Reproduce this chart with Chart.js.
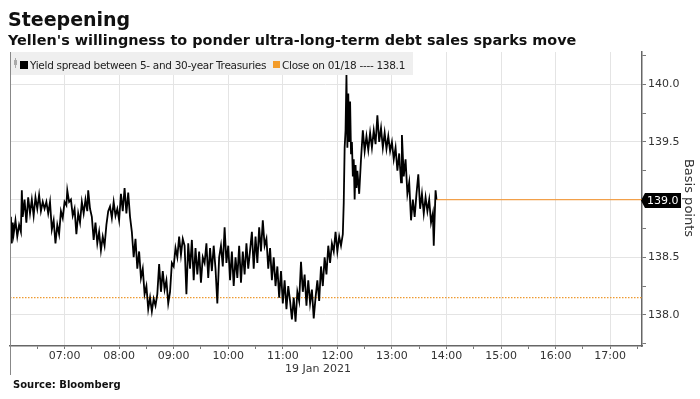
<!DOCTYPE html>
<html>
<head>
<meta charset="utf-8">
<script src="https://cdn.jsdelivr.net/npm/chart.js@4"></script>
<style>
html, body { margin: 0; padding: 0; background: #fff; }
#wrap { position: relative; width: 700px; height: 399px; }
</style>
</head>
<body>
<div id="wrap"><canvas id="chart" width="700" height="399"></canvas></div>
<script>
// Chart text
var chartTitle = 'Steepening';
var chartSubtitle = "Yellen's willingness to ponder ultra-long-term debt sales sparks move";
var seriesName = 'Yield spread between 5- and 30-year Treasuries';
var closeName = 'Close on 01/18 ---- 138.1';
var dateLabel = '19 Jan 2021';
var axisTitle = 'Basis points';
var sourceText = 'Source: Bloomberg';

// minutes after 06:00 on 19 Jan 2021
var minutes = [
  0, 1, 2, 3, 4, 6, 8, 10, 12, 13, 14, 16, 18, 20, 22, 24, 26, 28, 30, 32, 34, 36, 38, 40, 42, 44, 46, 48, 50, 52,
  54, 56, 58, 60, 62, 63, 65, 67, 69, 71, 73, 75, 77, 79, 81, 83, 85, 86, 88, 90, 92, 94, 96, 98, 100, 102, 104, 106, 108, 110,
  112, 114, 116, 118, 120, 122, 124, 126, 128, 130, 132, 134, 136, 138, 140, 142, 144, 146, 148, 150, 152, 154, 156, 158, 160, 162, 164, 166, 168, 170,
  172, 174, 176, 178, 180, 182, 184, 186, 188, 190, 192, 194, 196, 198, 200, 202, 204, 206, 208, 210, 212, 214, 216, 218, 220, 222, 224, 226, 228, 230,
  232, 234, 236, 238, 240, 242, 244, 246, 248, 250, 252, 254, 256, 258, 260, 262, 264, 266, 268, 270, 272, 274, 276, 278, 280, 282, 284, 286, 288, 290,
  292, 294, 296, 298, 300, 302, 304, 306, 308, 310, 312, 314, 316, 318, 320, 322, 324, 326, 328, 330, 332, 334, 336, 338, 340, 342, 344, 346, 348, 350,
  352, 354, 356, 358, 360, 362, 364, 366, 367, 368, 369, 370, 371, 372, 373, 374, 375, 376, 377, 378, 379, 380, 381, 382, 384, 386, 388, 390, 392, 394,
  396, 398, 400, 402, 404, 406, 408, 410, 412, 414, 416, 418, 420, 422, 424, 426, 428, 430, 431, 433, 435, 437, 439, 441, 443, 445, 447, 449, 451, 453,
  455, 457, 459, 461, 463, 465, 466, 467, 468, 469
];
var spread = [
  138.65, 138.85, 138.62, 138.80, 138.70, 138.82, 138.68, 138.78, 138.72, 139.08, 138.85, 139.00, 138.80, 139.02, 138.88, 139.00, 138.86, 139.02, 138.92, 139.04, 138.90, 138.98, 138.92, 138.98, 138.88, 138.98, 138.74, 138.82, 138.62, 138.78,
  138.70, 138.90, 138.84, 138.98, 138.95, 139.08, 138.98, 139.00, 138.86, 138.92, 138.70, 138.88, 138.80, 138.98, 138.88, 139.00, 138.90, 139.08, 138.92, 138.85, 138.65, 138.80, 138.62, 138.72, 138.56, 138.68, 138.60, 138.78, 138.90, 138.94,
  138.84, 138.98, 138.86, 138.92, 138.82, 139.05, 138.90, 139.10, 138.88, 139.06, 138.85, 138.72, 138.50, 138.66, 138.40, 138.55, 138.32, 138.40, 138.18, 138.25, 138.05, 138.15, 138.03, 138.14, 138.08, 138.18, 138.44, 138.20, 138.38, 138.22,
  138.30, 138.10, 138.20, 138.45, 138.42, 138.58, 138.50, 138.68, 138.52, 138.66, 138.60, 138.18, 138.62, 138.40, 138.65, 138.30, 138.58, 138.35, 138.55, 138.28, 138.50, 138.45, 138.62, 138.32, 138.58, 138.38, 138.60, 138.40, 138.10, 138.50,
  138.60, 138.42, 138.76, 138.45, 138.60, 138.30, 138.55, 138.25, 138.50, 138.32, 138.60, 138.28, 138.55, 138.35, 138.62, 138.40, 138.56, 138.72, 138.40, 138.68, 138.45, 138.76, 138.55, 138.82, 138.60, 138.66, 138.40, 138.58, 138.30, 138.50,
  138.25, 138.42, 138.15, 138.38, 138.10, 138.30, 138.05, 138.25, 138.12, 137.96, 138.15, 137.94, 138.20, 138.12, 138.46, 138.20, 138.35, 138.08, 138.30, 138.10, 138.22, 137.97, 138.15, 138.30, 138.12, 138.42, 138.25, 138.50, 138.35, 138.60,
  138.45, 138.62, 138.55, 138.72, 138.55, 138.68, 138.60, 138.70, 138.97, 139.45, 139.60, 140.08, 139.45, 139.92, 139.50, 139.85, 139.40, 139.50, 139.20, 139.35, 139.00, 139.30, 139.10, 139.25, 139.05, 139.35, 139.60, 139.42, 139.55, 139.43,
  139.58, 139.45, 139.60, 139.48, 139.73, 139.50, 139.62, 139.45, 139.58, 139.44, 139.55, 139.42, 139.50, 139.35, 139.45, 139.25, 139.40, 139.15, 139.56, 139.20, 139.35, 139.05, 139.15, 138.82, 139.00, 138.85, 139.05, 139.22, 138.92, 139.05,
  138.88, 139.02, 138.90, 139.00, 138.80, 138.88, 138.60, 138.85, 139.08, 139.00
];
var closeValue = 138.15;
var lastValue = 139.0;
var xMin = 0, xMax = 695;
var yMin = 137.73, yMax = 140.28;

var points = [];
for (var i = 0; i < minutes.length; i++) {
  points.push({ x: minutes[i], y: spread[i] });
}

function isMajor(v) {
  return Math.abs(v * 2 - Math.round(v * 2)) < 0.001;
}
function hourLabel(v) {
  var h = 6 + v / 60;
  return (h < 10 ? '0' : '') + h + ':00';
}

var decor = {
  id: 'decor',
  beforeDatasetsDraw: function(chart) {
    var ctx = chart.ctx;
    ctx.save();
    ctx.fillStyle = '#efefef';
    ctx.fillRect(10, 52, 403, 23);
    ctx.restore();
  },
  afterDraw: function(chart) {
    var ctx = chart.ctx;
    var area = chart.chartArea;
    var yScale = chart.scales.y;
    ctx.save();

    // titles
    ctx.fillStyle = '#111';
    ctx.textBaseline = 'alphabetic';
    ctx.textAlign = 'left';
    ctx.font = 'bold 19px "DejaVu Sans"';
    ctx.fillText(chartTitle, 8, 26);
    ctx.font = 'bold 14.4px "DejaVu Sans"';
    ctx.fillText(chartSubtitle, 8, 45);
    ctx.font = 'bold 10px "DejaVu Sans"';
    ctx.fillText(sourceText, 13, 388);

    // legend
    ctx.fillStyle = '#aaa';
    ctx.fillRect(14, 60, 3, 5);
    ctx.fillRect(15, 58, 1, 10);
    ctx.fillStyle = '#000';
    ctx.fillRect(20, 61, 8, 8);
    ctx.fillStyle = '#f39c2a';
    ctx.fillRect(273, 61, 7, 7);
    ctx.fillStyle = '#222';
    ctx.font = '10.5px "DejaVu Sans"';
    ctx.letterSpacing = '-0.3px';
    ctx.fillText(seriesName, 30, 69);
    ctx.fillText(closeName, 282, 69);
    ctx.letterSpacing = '0px';

    // left separator
    ctx.strokeStyle = '#888';
    ctx.lineWidth = 1;
    ctx.beginPath();
    ctx.moveTo(10.5, area.top);
    ctx.lineTo(10.5, 375);
    ctx.stroke();

    // date under the hours
    ctx.fillStyle = '#333';
    ctx.font = '11px "DejaVu Sans"';
    ctx.textAlign = 'center';
    ctx.fillText(dateLabel, 318, 372);

    // last value box
    var py = Math.round(yScale.getPixelForValue(lastValue)) + 0.5;
    ctx.fillStyle = '#000';
    ctx.beginPath();
    ctx.moveTo(641, py);
    ctx.lineTo(645, py - 7.5);
    ctx.lineTo(681, py - 7.5);
    ctx.lineTo(681, py + 7.5);
    ctx.lineTo(645, py + 7.5);
    ctx.closePath();
    ctx.fill();
    ctx.fillStyle = '#fff';
    ctx.textAlign = 'left';
    ctx.textBaseline = 'middle';
    ctx.fillText(lastValue.toFixed(1), 647, py + 0.5);

    // axis title
    ctx.translate(688, 198);
    ctx.rotate(Math.PI / 2);
    ctx.fillStyle = '#333';
    ctx.font = '13px "DejaVu Sans"';
    ctx.textAlign = 'center';
    ctx.fillText(axisTitle, 0, 0);
    ctx.restore();
  }
};

var ctx = document.getElementById('chart').getContext('2d');
var chart = new Chart(ctx, {
  type: 'line',
  data: {
    datasets: [
      {
        label: seriesName,
        data: points,
        borderColor: '#000',
        borderWidth: 1.8,
        pointRadius: 0,
        tension: 0,
        order: 1
      },
      {
        label: closeName,
        data: [{ x: xMin, y: closeValue }, { x: xMax, y: closeValue }],
        borderColor: '#ee9a30',
        borderWidth: 1.2,
        borderDash: [1.5, 1.5],
        pointRadius: 0,
        order: 2
      },
      {
        label: 'last',
        data: [{ x: minutes[minutes.length - 1], y: lastValue }, { x: xMax, y: lastValue }],
        borderColor: '#f2a04a',
        borderWidth: 1.2,
        pointRadius: 0,
        order: 3
      }
    ]
  },
  options: {
    responsive: false,
    animation: false,
    layout: { padding: { left: 10, top: 52, right: 0, bottom: 0 } },
    plugins: {
      legend: { display: false },
      tooltip: { enabled: false }
    },
    scales: {
      x: {
        type: 'linear',
        min: xMin,
        max: xMax,
        afterFit: function(s) { s.height = 53; },
        border: { color: '#666', width: 1.5 },
        grid: {
          color: function(c) { return (c.tick.value % 60 === 0 && c.tick.value > 0) ? '#e4e4e4' : 'rgba(0,0,0,0)'; },
          tickColor: '#777',
          tickLength: 3
        },
        ticks: {
          stepSize: 30,
          includeBounds: false,
          autoSkip: false,
          maxRotation: 0,
          padding: 1,
          color: '#333',
          font: { family: 'DejaVu Sans', size: 11 },
          callback: function(v) { return (v % 60 === 0 && v > 0) ? hourLabel(v) : ''; }
        }
      },
      y: {
        position: 'right',
        min: yMin,
        max: yMax,
        afterFit: function(s) { s.width = 58; },
        border: { color: '#666', width: 1.5 },
        grid: {
          color: function(c) { return isMajor(c.tick.value) ? '#e4e4e4' : 'rgba(0,0,0,0)'; },
          tickColor: '#777',
          tickLength: 4
        },
        ticks: {
          stepSize: 0.25,
          includeBounds: false,
          autoSkip: false,
          padding: 2,
          color: '#333',
          font: { family: 'DejaVu Sans', size: 11 },
          callback: function(v) { return (isMajor(v) && Math.abs(v - lastValue) > 0.01) ? v.toFixed(1) : ''; }
        }
      }
    }
  },
  plugins: [decor]
});
</script>
</body>
</html>
